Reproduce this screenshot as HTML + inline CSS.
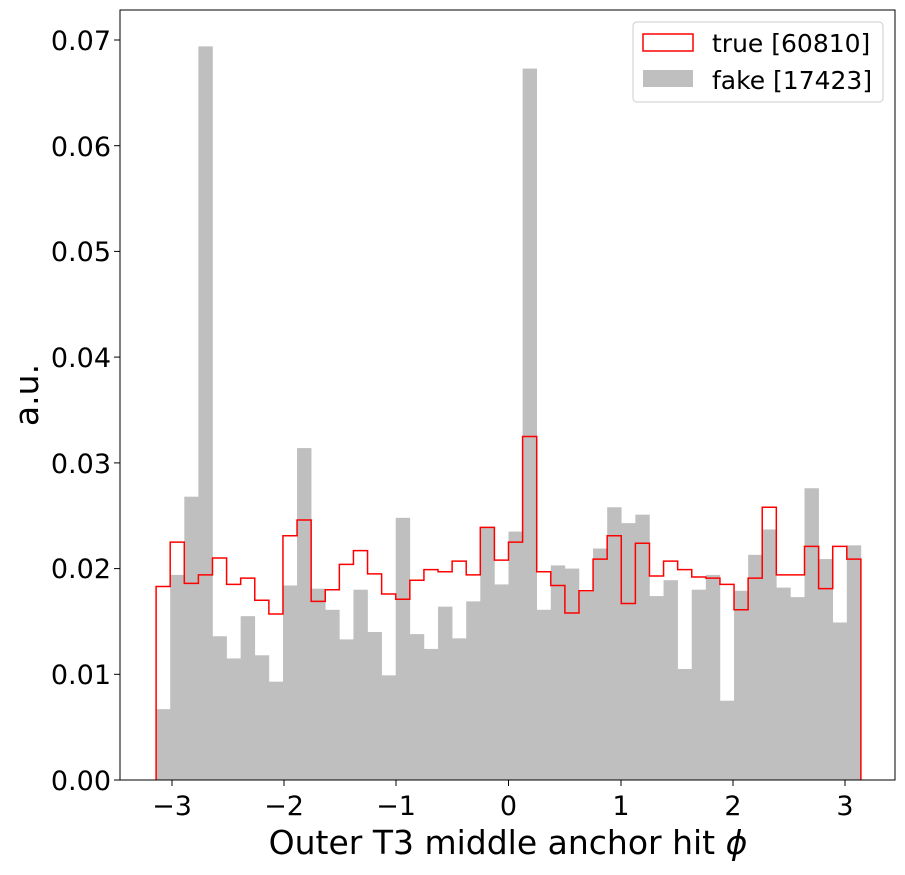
<!DOCTYPE html>
<html><head><meta charset="utf-8"><style>
body{margin:0;background:#fff}
svg text{font-family:"DejaVu Sans","Liberation Sans",sans-serif;fill:#000}
</style></head><body>
<svg id="s" width="905" height="870" xmlns="http://www.w3.org/2000/svg">
<g id="bars"></g>
<path id="tr" fill="none" stroke="#ff0000" stroke-width="1.5"/>
<rect x="120" y="10" width="775" height="770" fill="none" stroke="#000" stroke-width="1"/>
<g stroke="#000" stroke-width="1">
<line x1="172" y1="780" x2="172" y2="786"/><line x1="284" y1="780" x2="284" y2="786"/><line x1="396" y1="780" x2="396" y2="786"/><line x1="508.5" y1="780" x2="508.5" y2="786"/><line x1="621" y1="780" x2="621" y2="786"/><line x1="733" y1="780" x2="733" y2="786"/><line x1="845" y1="780" x2="845" y2="786"/>
<line x1="114" y1="780" x2="120" y2="780"/><line x1="114" y1="674.3" x2="120" y2="674.3"/><line x1="114" y1="568.6" x2="120" y2="568.6"/><line x1="114" y1="462.9" x2="120" y2="462.9"/><line x1="114" y1="357.1" x2="120" y2="357.1"/><line x1="114" y1="251.4" x2="120" y2="251.4"/><line x1="114" y1="145.7" x2="120" y2="145.7"/><line x1="114" y1="40" x2="120" y2="40"/>
</g>
<g font-size="27" text-anchor="middle">
<text x="172" y="815">−3</text><text x="284" y="815">−2</text><text x="396" y="815">−1</text><text x="508.5" y="815">0</text><text x="621" y="815">1</text><text x="733" y="815">2</text><text x="845" y="815">3</text>
</g>
<g font-size="27" text-anchor="end">
<text x="111" y="790">0.00</text><text x="111" y="684">0.01</text><text x="111" y="578">0.02</text><text x="111" y="473">0.03</text><text x="111" y="367">0.04</text><text x="111" y="261">0.05</text><text x="111" y="156">0.06</text><text x="111" y="50">0.07</text>
</g>
<text x="508" y="854" font-size="33" text-anchor="middle">Outer T3 middle anchor hit <tspan font-style="italic">ϕ</tspan></text>
<text transform="translate(38,395) rotate(-90)" font-size="33" text-anchor="middle">a.u.</text>
<rect x="633" y="22" width="250" height="80" rx="4" fill="#fff" stroke="#ccc"/>
<rect x="643" y="34" width="50" height="17" fill="none" stroke="#ff0000" stroke-width="1.5"/>
<rect x="643" y="70" width="50" height="17" fill="#bfbfbf"/>
<text x="712" y="52" font-size="25">true [60810]</text>
<text x="712" y="89" font-size="25">fake [17423]</text>
</svg>
<script>
var f=[.0067,.0194,.0268,.0694,.0136,.0115,.0155,.0118,.0093,.0184,.0314,.0181,.0161,.0133,.0180,.0140,.0099,.0248,.0138,.0124,.0164,.0134,.0169,.0239,.0185,.0235,.0673,.0161,.0203,.0200,.0178,.0219,.0258,.0243,.0251,.0174,.0189,.0105,.0180,.0194,.0075,.0179,.0213,.0237,.0182,.0173,.0276,.0209,.0149,.0222];
var t=[.0183,.0225,.0186,.0194,.0210,.0185,.0191,.0170,.0157,.0231,.0246,.0169,.0180,.0204,.0217,.0195,.0176,.0171,.0189,.0199,.0197,.0207,.0194,.0239,.0208,.0225,.0325,.0197,.0184,.0158,.0179,.0209,.0231,.0167,.0224,.0193,.0207,.0199,.0192,.0191,.0185,.0161,.0191,.0258,.0194,.0194,.0221,.0181,.0221,.0209];
var x0=156.1,w=14.096,s=10571,b="",d="M"+x0+",780";
for(var i=0;i<50;i++){var x=x0+i*w,y=780-f[i]*s;b+='<rect x="'+x+'" y="'+y+'" width="'+(w+0.3)+'" height="'+(780-y)+'" fill="#bfbfbf"/>';var ty=780-t[i]*s;d+=" L"+x+","+ty+" L"+(x+w)+","+ty;}
d+=" L"+(x0+50*w)+",780";
document.getElementById("bars").innerHTML=b;document.getElementById("tr").setAttribute("d",d);
</script>
</body></html>
